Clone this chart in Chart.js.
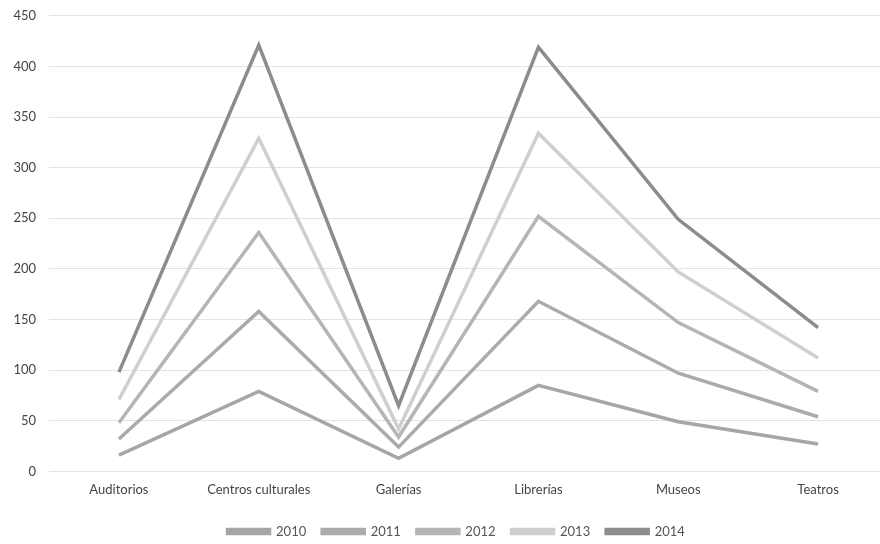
<!DOCTYPE html>
<html lang="es">
<head>
<meta charset="utf-8">
<title>Espacios culturales</title>
<script src="https://cdn.jsdelivr.net/npm/chart.js@4/dist/chart.umd.min.js"></script>
<style>
  html, body { margin: 0; padding: 0; background: #fff; overflow: hidden; }
  #wrap { width: 880px; height: 544px; overflow: hidden; }
  canvas { display: block; margin-top: -5px; }
</style>
</head>
<body>
<div id="wrap"><canvas id="chart" width="888" height="549"></canvas></div>
<script>
// categorías y series
const categories = ['Auditorios', 'Centros culturales', 'Galerías', 'Librerías', 'Museos', 'Teatros'];
const years = ['2010', '2011', '2012', '2013', '2014'];

const values2010 = [16, 79, 13, 85, 49, 27];
const values2011 = [32, 158, 24, 168, 97, 54];
const values2012 = [48, 236, 34, 252, 147, 79];
const values2013 = [71, 329, 42, 334, 197, 112];
const values2014 = [98, 421, 65, 419, 249, 142];

const yTicks = [0, 50, 100, 150, 200, 250, 300, 350, 400, 450];

const seriesValues = [values2010, values2011, values2012, values2013, values2014];
const colors = ['#a6a6a6', '#ababab', '#b5b5b5', '#cfcfcf', '#8c8c8c'];

const FONT = { family: 'Lato, "Open Sans", sans-serif', size: 13 };

// la leyenda del original no está centrada en el lienzo: se desplaza un poco
const legendShift = {
  id: 'legendShift',
  afterLayout(chart) {
    if (!chart.legend) return;
    chart.legend.left += 12;
    chart.legend.right += 12;
  }
};

new Chart(document.getElementById('chart'), {
  type: 'line',
  data: {
    labels: categories,
    datasets: years.map((y, i) => ({
      label: y,
      data: seriesValues[i],
      borderColor: colors[i],
      backgroundColor: colors[i],
      borderWidth: 3.5,
      pointRadius: 0,
      tension: 0,
      fill: false
    }))
  },
  options: {
    responsive: false,
    animation: false,
    layout: { padding: { top: 8, left: 0.4, right: 0, bottom: -4 } },
    plugins: {
      tooltip: { enabled: false },
      legend: {
        position: 'bottom',
        labels: {
          boxWidth: 42,
          boxHeight: 4,
          padding: 16,
          color: '#555',
          font: FONT
        }
      }
    },
    scales: {
      x: {
        offset: true,
        grid: { display: false, drawTicks: false },
        border: { display: false },
        ticks: { color: '#444', font: FONT, padding: 11, maxRotation: 0, autoSkip: false }
      },
      y: {
        min: 0,
        max: 450,
        afterBuildTicks: s => { s.ticks = yTicks.map(v => ({ value: v })); },
        grid: { color: '#e3e3e3', lineWidth: 1, drawTicks: false },
        border: { display: false },
        ticks: { color: '#444', font: FONT, padding: 13 }
      }
    }
  },
  plugins: [legendShift]
});
</script>
</body>
</html>
